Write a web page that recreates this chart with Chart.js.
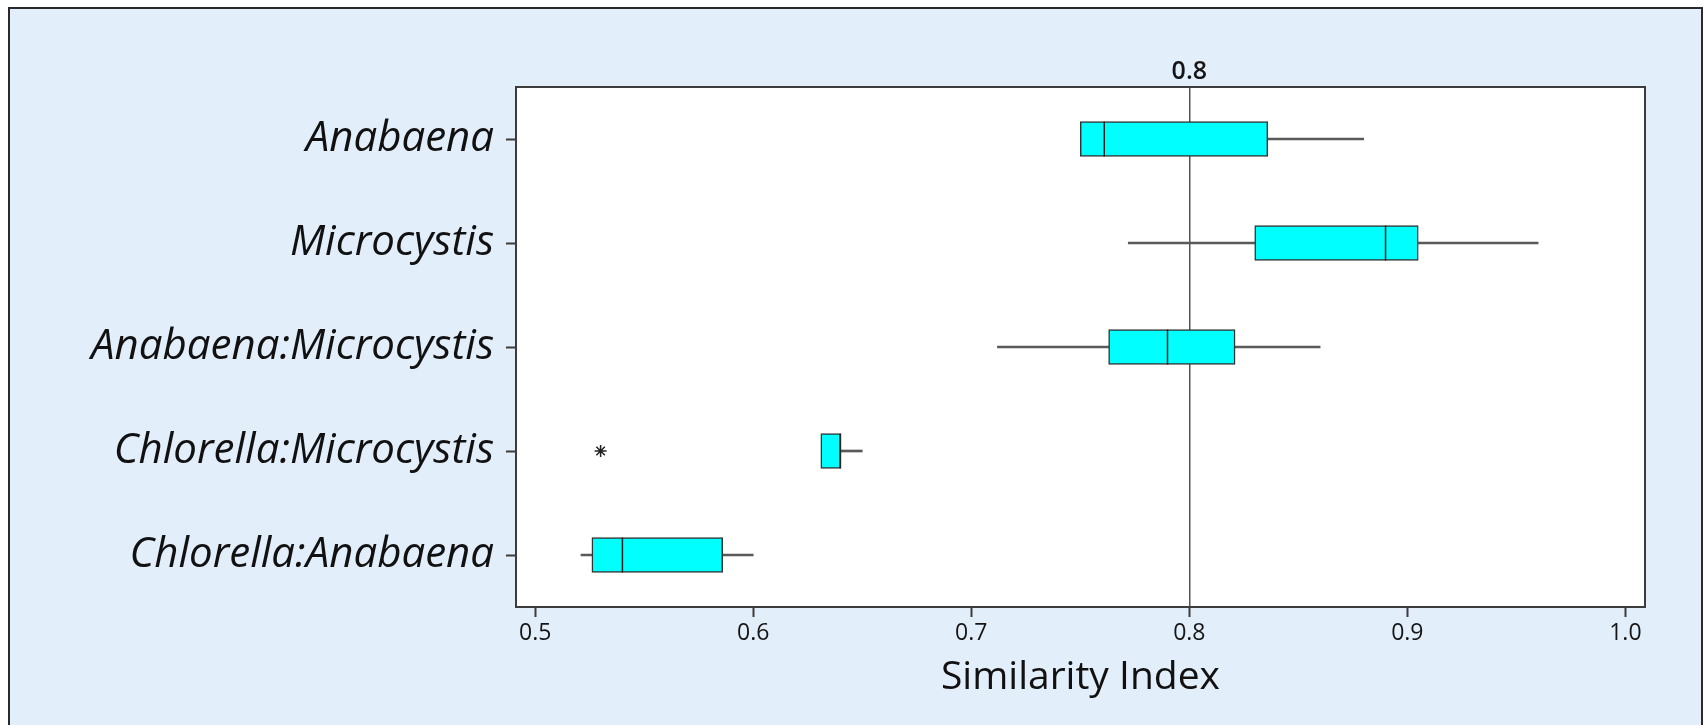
<!DOCTYPE html>
<html>
<head>
<meta charset="utf-8">
<script src="https://cdn.jsdelivr.net/npm/chart.js@4"></script>
<style>
  html, body { margin: 0; padding: 0; background: #fff; overflow: hidden; }
  #frame {
    position: absolute; left: 8px; top: 7px; width: 1691px; height: 740px;
    border: 2px solid #2a2a2a; background: #e3eefb;
  }
  #wrap { position: absolute; left: 0; top: 0; width: 1706px; height: 725px; }
</style>
</head>
<body>
<div id="frame"></div>
<div id="wrap"><canvas id="boxChart" width="1706" height="725"></canvas></div>
<script>
// groups, top to bottom
const groups = [
  "Anabaena",
  "Microcystis",
  "Anabaena:Microcystis",
  "Chlorella:Microcystis",
  "Chlorella:Anabaena",
];

// five-number summaries
const whiskerLow = [0.750, 0.772, 0.712, 0.640, 0.521];
const q1 = [0.750, 0.830, 0.763, 0.631, 0.526];
const median = [0.761, 0.890, 0.790, 0.640, 0.540];
const q3 = [0.836, 0.905, 0.821, 0.640, 0.586];
const whiskerHigh = [0.880, 0.960, 0.860, 0.650, 0.600];

// outliers (asterisks)
const outlierGroup = ["Chlorella:Microcystis"];
const outlierValue = [0.530];

const xTicks = [0.5, 0.6, 0.7, 0.8, 0.9, 1.0];
const refLine = 0.8;

const axisColor = "#3c3c3c";
const boxFill = "#00ffff";

// plot area fill
const plotBackground = {
  id: "plotBackground",
  beforeDraw(chart) {
    const { ctx, chartArea } = chart;
    ctx.save();
    ctx.fillStyle = "#ffffff";
    ctx.fillRect(chartArea.left, chartArea.top, chartArea.right - chartArea.left, chartArea.bottom - chartArea.top);
    ctx.restore();
  },
};

const ctx = document.getElementById("boxChart").getContext("2d");
new Chart(ctx, {
  type: "bar",
  data: {
    labels: groups,
    datasets: [
      {
        label: "whisker",
        data: groups.map((g, i) => [whiskerLow[i], whiskerHigh[i]]),
        backgroundColor: "#5a5a5a",
        borderWidth: 0,
        barThickness: 2,
        grouped: false,
        order: 4,
      },
      {
        label: "box",
        data: groups.map((g, i) => [q1[i], q3[i]]),
        backgroundColor: boxFill,
        borderColor: "#333333",
        borderWidth: 1.5,
        borderSkipped: false,
        barThickness: 35,
        grouped: false,
        order: 3,
      },
      {
        type: "line",
        label: "median",
        data: groups.map((g, i) => ({ x: median[i], y: g })),
        showLine: false,
        pointStyle: "line",
        pointRotation: 90,
        pointRadius: 17.5,
        pointHoverRadius: 17.5,
        borderColor: "#222222",
        borderWidth: 1.5,
        order: 2,
      },
      {
        type: "line",
        label: "outlier",
        data: outlierGroup.map((g, i) => ({ x: outlierValue[i], y: g })),
        showLine: false,
        pointStyle: "star",
        pointRadius: 6,
        borderColor: "#222222",
        borderWidth: 1.5,
        order: 1,
      },
    ],
  },
  options: {
    indexAxis: "y",
    responsive: false,
    animation: false,
    layout: { padding: { left: 0, right: 0, top: 0, bottom: 0 } },
    plugins: {
      legend: { display: false },
      tooltip: { enabled: false },
    },
    scales: {
      x: {
        type: "linear",
        position: "bottom",
        min: 0.4912,
        max: 1.009,
        afterBuildTicks: (axis) => {
          axis.ticks = xTicks.map((v) => ({ value: v }));
        },
        afterFit: (axis) => {
          axis.height = 725 - 607;
        },
        ticks: {
          callback: (v) => Number(v).toFixed(1),
          color: "#151515",
          font: { family: "Open Sans", size: 23 },
          padding: 3,
          maxRotation: 0,
        },
        grid: {
          drawOnChartArea: false,
          drawTicks: true,
          tickLength: 10,
          tickColor: axisColor,
          tickWidth: 2,
        },
        border: { display: true, color: axisColor, width: 2 },
        title: {
          display: true,
          text: "Similarity Index",
          color: "#111111",
          font: { family: "Open Sans", size: 39 },
          padding: { top: 0, bottom: 24 },
        },
      },
      x2: {
        type: "linear",
        position: "top",
        min: 0.4912,
        max: 1.009,
        afterBuildTicks: (axis) => {
          axis.ticks = [{ value: refLine }];
        },
        afterFit: (axis) => {
          axis.height = 87;
        },
        ticks: {
          callback: (v) => Number(v).toFixed(1),
          color: "#151515",
          font: { family: "Open Sans", size: 25, weight: "600" },
          padding: 0,
        },
        grid: {
          drawOnChartArea: true,
          drawTicks: false,
          color: "#555555",
          lineWidth: 1.5,
        },
        border: { display: true, color: axisColor, width: 2 },
      },
      y: {
        type: "category",
        position: "left",
        offset: true,
        afterFit: (axis) => {
          axis.width = 516;
        },
        ticks: {
          color: "#111111",
          font: { family: "Open Sans", size: 42, style: "italic" },
          padding: 12,
        },
        grid: {
          offset: false,
          drawOnChartArea: false,
          drawTicks: true,
          tickLength: 10,
          tickColor: axisColor,
          tickWidth: 2,
        },
        border: { display: true, color: axisColor, width: 2 },
      },
      y2: {
        type: "linear",
        position: "right",
        afterFit: (axis) => {
          axis.width = 1706 - 1645;
        },
        ticks: { display: false },
        grid: { display: false },
        border: { display: true, color: axisColor, width: 2 },
      },
    },
  },
  plugins: [plotBackground],
});
</script>
</body>
</html>
